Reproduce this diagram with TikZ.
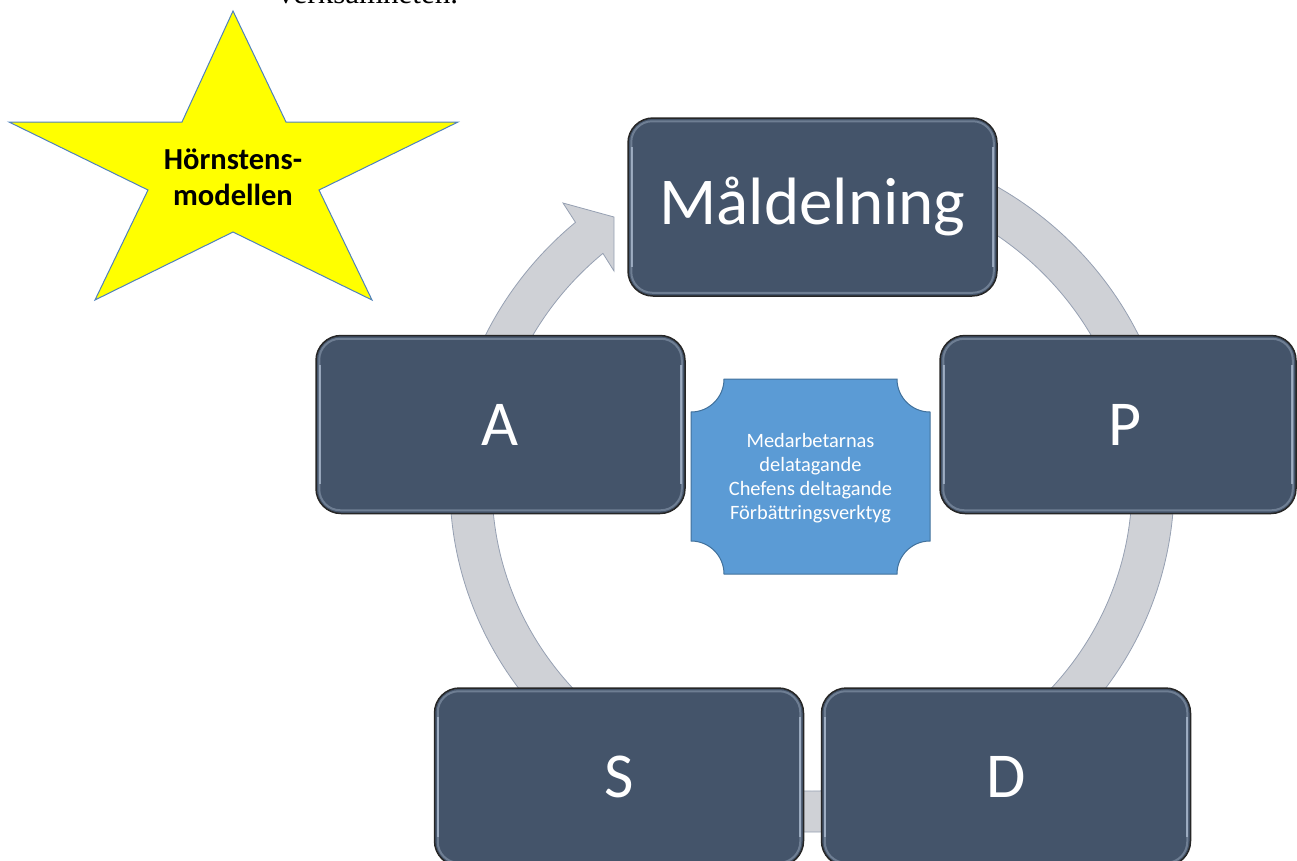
\documentclass[tikz,border=0pt]{standalone}
\usepackage{fontspec}
\setmainfont{Carlito}
\newfontfamily\serifft{Liberation Serif}
\usetikzlibrary{calc}
\definecolor{boxfill}{RGB}{68,84,106}
\definecolor{ringfill}{RGB}{207,209,214}
\definecolor{ringline}{RGB}{150,160,178}
\definecolor{plaquefill}{RGB}{91,155,213}
\definecolor{plaqueline}{RGB}{65,113,156}
\definecolor{staryellow}{RGB}{255,255,0}
\definecolor{starline}{RGB}{79,129,189}
\definecolor{hilite}{RGB}{175,190,210}
\newcommand\boxglow[1]{%
  \draw[hl, opacity=0.4, rounded corners=21pt] ($(#1.north west)+(4,4)$) rectangle ($(#1.south east)+(-4,-4)$);
  \draw[hl] ($(#1.north west)+(4.5,30)$) -- ($(#1.south west)+(4.5,-30)$);
  \draw[hl] ($(#1.north east)+(-4.5,30)$) -- ($(#1.south east)+(-4.5,-30)$);
}
\begin{document}
\begin{tikzpicture}[x=1pt,y=-1pt,
  stepbox/.style={draw=black!85, line width=1.5pt, fill=boxfill, rounded corners=25pt,
    minimum width=369pt, minimum height=178pt, inner sep=0pt, text=white,
    font=\fontsize{64}{76}\selectfont},
  hl/.style={draw=hilite, line width=2pt, opacity=0.75},
  ringstyle/.style={fill=ringfill, draw=ringline, line width=0.8pt},
  plaque/.style={fill=plaquefill, draw=plaqueline, line width=1pt},
  starstyle/.style={fill=staryellow, draw=starline, line width=1pt, line join=miter}]
\useasboundingbox (0,0) rectangle (1297,860);
\clip (0,0) rectangle (1297,860);

% cycle ring with arrow head
\path[ringstyle]
  ({812+362*cos(-80)},{485+347*sin(-80)})
  arc[start angle=-80, end angle=229.2, x radius=362, y radius=347]
  -- (563,203) -- (614,217) -- (614,271)
  -- ({812+320*cos(229.2)},{485+306*sin(229.2)})
  arc[start angle=229.2, end angle=-80, x radius=320, y radius=306]
  -- cycle;

% step boxes
\node[stepbox, font=\fontsize{67}{80}\selectfont] (m) at (812.5,207) {Måldelning};
\node[stepbox] (a) at (500.5,424.5) {A};
\node[stepbox, minimum width=356pt] (p) at (1118,424.5) {\hspace*{14pt}P};
\node[stepbox] (s) at (619,777) {S};
\node[stepbox] (d) at (1006,777) {D};
\boxglow{m}\boxglow{a}\boxglow{p}\boxglow{s}\boxglow{d}

% centre plaque
\path[plaque] (724,379) -- (897,379)
  arc[start angle=180, end angle=90, radius=33]
  -- (930,541)
  arc[start angle=270, end angle=180, radius=33]
  -- (724,574)
  arc[start angle=360, end angle=270, radius=33]
  -- (691,412)
  arc[start angle=90, end angle=0, radius=33]
  -- cycle;
\node[text=white, align=center, inner sep=0pt, font=\fontsize{20.4}{24}\selectfont] (c) at (810.5,478)
  {Medarbetarnas\\delatagande\\Chefens deltagande\\Förbättringsverktyg};

% star
\path[starstyle] (233,11) -- (286,122) -- (458,122) -- (319,190) -- (372,300)
  -- (233,232) -- (95,300) -- (148,190) -- (9,122) -- (182,122) -- cycle;
\node[align=center, inner sep=0pt, font=\bfseries\fontsize{30.5}{36}\selectfont] (star) at (233,177)
  {Hörnstens-\\modellen};

% cut-off text at the top
\node[anchor=base west, inner sep=0pt, font=\serifft\fontsize{31}{37}\selectfont] (top) at (278,3) {verksamheten.};
\end{tikzpicture}
\end{document}
